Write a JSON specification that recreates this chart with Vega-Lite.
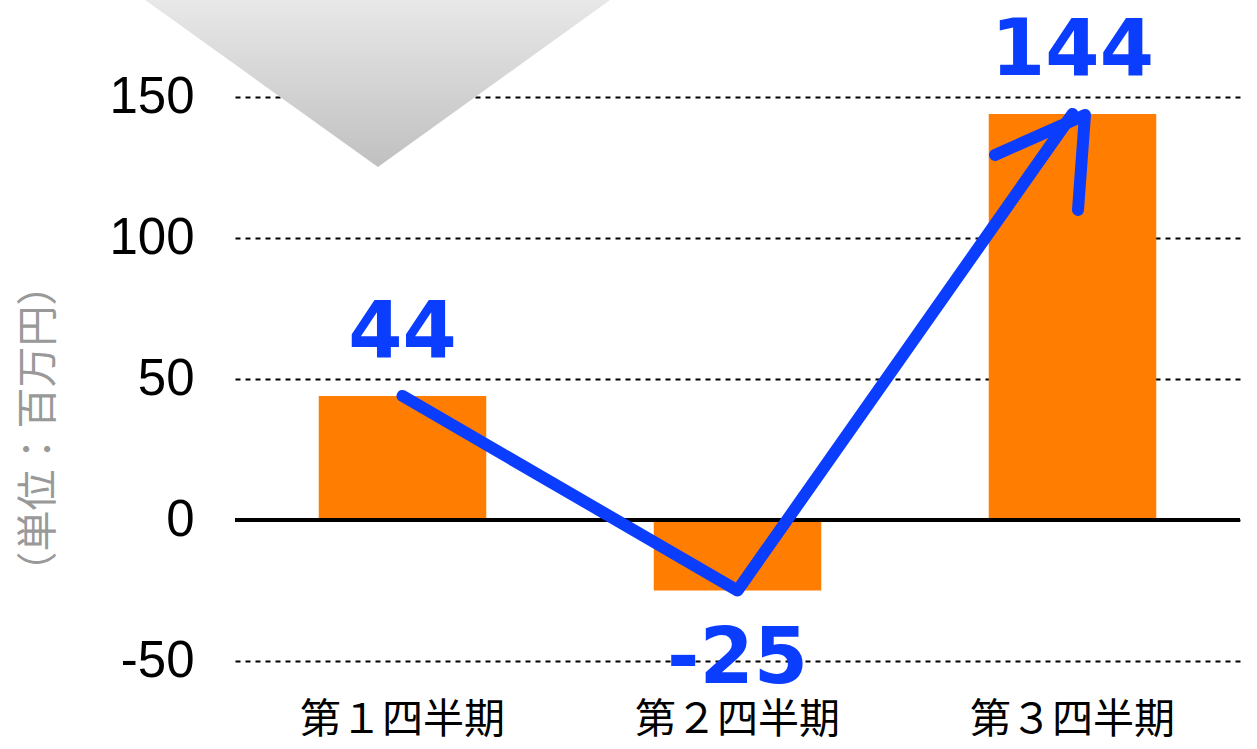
{
  "$schema": "https://vega.github.io/schema/vega-lite/v6.json",
  "width": 1005,
  "height": 661,
  "autosize": {"type": "none"},
  "padding": {"left": 235, "top": 0, "right": 17, "bottom": 88},
  "background": "white",
  "config": {"view": {"stroke": null}},
  "data": {"values": [
    {"category": "第１四半期", "value": 44},
    {"category": "第２四半期", "value": -25},
    {"category": "第３四半期", "value": 144}
  ]},
  "layer": [
    {
      "mark": {"type": "bar", "color": "#ff7d00"},
      "encoding": {
        "x": {"field": "category", "type": "nominal", "sort": null,
          "scale": {"paddingInner": 0.5, "paddingOuter": 0.25},
          "axis": {"title": null, "labelAngle": 0, "ticks": false, "domain": false, "grid": false,
            "labelFont": "Noto Sans CJK JP", "labelFontSize": 41, "labelColor": "#000000",
            "labelBaseline": "middle", "labelPadding": 59, "labelLimit": 0}},
        "y": {"field": "value", "type": "quantitative",
          "scale": {"domain": [-50, 184.4], "nice": false, "zero": false},
          "axis": {"values": [-50, 0, 50, 100, 150], "ticks": false, "domain": false,
            "labelExpr": "'' + datum.value",
            "grid": true, "gridColor": "#000000", "gridDash": [5, 5], "gridWidth": 2, "gridOpacity": 1,
            "labelFont": "Liberation Sans", "labelFontSize": 51, "labelColor": "#000000",
            "labelPadding": 41, "labelBaseline": "middle",
            "title": "（単位：百万円）", "titleFont": "Noto Sans CJK JP", "titleFontSize": 41,
            "titleFontWeight": "normal", "titleColor": "#999999", "titleAngle": -90,
            "titleX": -196, "titleY": 428, "titleAlign": "center", "titleBaseline": "middle"}}
      }
    },
    {
      "transform": [{"filter": "datum.value > 100"}],
      "mark": {"type": "point", "shape": "M-0.858,-0.323 L0.692,-0.323 L-0.082,0.233 Z", "size": 360000,
        "filled": true, "opacity": 1, "strokeWidth": 0,
        "color": {"gradient": "linear", "x1": 0, "y1": 0, "x2": 0, "y2": 1,
          "stops": [{"offset": 0, "color": "#e8e8e8"}, {"offset": 1, "color": "#c0c0c0"}]}},
      "encoding": {"x": {"datum": "第１四半期"}, "y": {"datum": 150}}
    },
    {
      "transform": [{"filter": "datum.value > 100"}],
      "mark": {"type": "rule", "color": "#000000", "strokeWidth": 4},
      "encoding": {"y": {"datum": 0}}
    },
    {
      "mark": {"type": "line", "color": "#0b3dff", "strokeWidth": 12, "strokeCap": "round", "strokeJoin": "round"},
      "encoding": {
        "x": {"field": "category", "type": "nominal", "sort": null},
        "y": {"field": "value", "type": "quantitative"}
      }
    },
    {
      "transform": [{"filter": "datum.value > 100"}],
      "mark": {"type": "point", "shape": "M-0.775,0.41 L0.125,0.01 L0.055,0.96", "size": 40000,
        "filled": false, "stroke": "#0b3dff", "strokeWidth": 12, "opacity": 1,
        "strokeCap": "round", "strokeJoin": "round"},
      "encoding": {
        "x": {"field": "category", "type": "nominal", "sort": null},
        "y": {"field": "value", "type": "quantitative"}
      }
    },
    {
      "transform": [{"filter": "datum.value >= 0"}],
      "mark": {"type": "text", "font": "DejaVu Sans", "fontWeight": "bold", "fontSize": 78,
        "color": "#0b3dff", "baseline": "alphabetic", "align": "center", "dy": -39},
      "encoding": {
        "x": {"field": "category", "type": "nominal", "sort": null},
        "y": {"field": "value", "type": "quantitative"},
        "text": {"field": "value", "type": "nominal"}
      }
    },
    {
      "transform": [{"filter": "datum.value < 0"}],
      "mark": {"type": "text", "font": "DejaVu Sans", "fontWeight": "bold", "fontSize": 78,
        "color": "#0b3dff", "baseline": "alphabetic", "align": "center", "dy": 92},
      "encoding": {
        "x": {"field": "category", "type": "nominal", "sort": null},
        "y": {"field": "value", "type": "quantitative"},
        "text": {"field": "value", "type": "nominal"}
      }
    }
  ]
}
